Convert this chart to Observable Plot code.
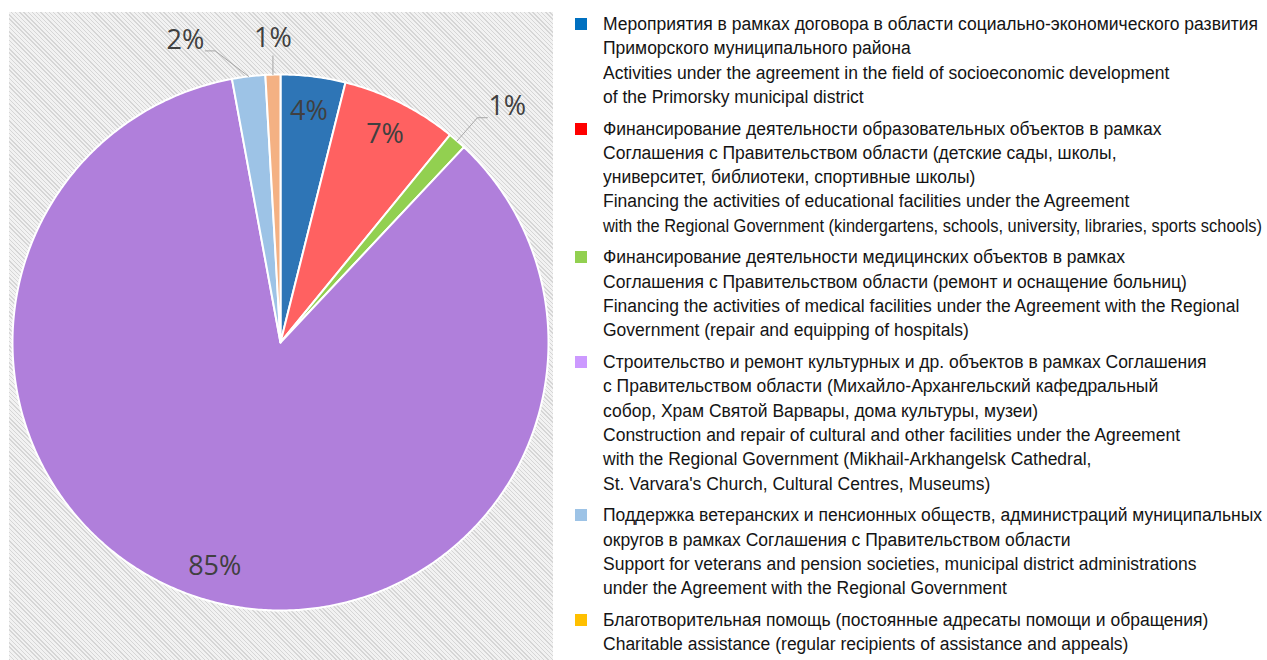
<!DOCTYPE html>
<html>
<head>
<meta charset="utf-8">
<script src="https://cdn.jsdelivr.net/npm/d3@7"></script>
<script src="https://cdn.jsdelivr.net/npm/@observablehq/plot@0.6"></script>
<style>
  html, body { margin: 0; padding: 0; background: #ffffff; }
  #wrap { position: relative; width: 1267px; height: 660px; overflow: hidden; }
  #bg { position: absolute; left: 9px; top: 12px; width: 544px; height: 648px;
        background: repeating-linear-gradient(45deg, #d6d6d6 0 1px, #f2f2f2 1px 3px); }
  #chart { position: absolute; left: 0; top: 0; }
  #legend { position: absolute; left: 575px; top: 12px;
            font-family: "Liberation Sans", Arial, sans-serif;
            font-size: 18px; line-height: 24.3px; color: #141414; }
  .item { position: relative; padding-left: 28px; margin-bottom: 7.4px; white-space: nowrap; }
  .sw { position: absolute; left: 0; top: 6px; width: 12px; height: 12px; }
  .ln { transform-origin: 0 0; white-space: nowrap; }
</style>
</head>
<body>
<div id="wrap">
  <div id="bg"></div>
  <div id="chart"></div>
  <div id="legend"></div>
</div>
<script>
// ---- data ----
const categories = [
  "Мероприятия (соц.-экон. развитие)",
  "Образовательные объекты",
  "Медицинские объекты",
  "Культурные и др. объекты",
  "Ветеранские и пенсионные общества",
  "Благотворительная помощь"
];
const shares = [3.9, 7.0, 1.1, 85.1, 2.0, 0.9];
const percentLabels = ["4%", "7%", "1%", "85%", "2%", "1%"];
const pieColors = ["#2E75B6", "#FF6161", "#92D050", "#B07FDB", "#9DC3E6", "#F4B183"];
const legendColors = ["#0070C0", "#FF0000", "#92D050", "#CC99FF", "#9DC3E6", "#FFC000"];
const legendRu = [
  ["Мероприятия в рамках договора в области социально-экономического развития", "Приморского муниципального района"],
  ["Финансирование деятельности образовательных объектов в рамках", "Соглашения с Правительством области (детские сады, школы,", "университет, библиотеки, спортивные школы)"],
  ["Финансирование деятельности медицинских объектов в рамках", "Соглашения с Правительством области (ремонт и оснащение больниц)"],
  ["Строительство и ремонт культурных и др. объектов в рамках Соглашения", "с Правительством области (Михайло-Архангельский кафедральный", "собор, Храм Святой Варвары, дома культуры, музеи)"],
  ["Поддержка ветеранских и пенсионных обществ, администраций муниципальных", "округов в рамках Соглашения с Правительством области"],
  ["Благотворительная помощь (постоянные адресаты помощи и обращения)"]
];
const legendEn = [
  ["Activities under the agreement in the field of socioeconomic development", "of the Primorsky municipal district"],
  ["Financing the activities of educational facilities under the Agreement", "with the Regional Government (kindergartens, schools, university, libraries, sports schools)"],
  ["Financing the activities of medical facilities under the Agreement with the Regional", "Government (repair and equipping of hospitals)"],
  ["Construction and repair of cultural and other facilities under the Agreement", "with the Regional Government (Mikhail-Arkhangelsk Cathedral,", "St. Varvara's Church, Cultural Centres, Museums)"],
  ["Support for veterans and pension societies, municipal district administrations", "under the Agreement with the Regional Government"],
  ["Charitable assistance (regular recipients of assistance and appeals)"]
];

// ---- layout ----
const W = 560, H = 660, CX = 280, CY = 342, R = 268;

// ---- geometry from data ----
const total = d3.sum(shares);
let acc = 0;
const slices = shares.map((v, i) => {
  const a0 = acc / total * 2 * Math.PI; acc += v;
  const a1 = acc / total * 2 * Math.PI;
  return {i, v, a0, a1, mid: (a0 + a1) / 2, label: percentLabels[i], name: categories[i]};
});
const pts = [];
for (const s of slices) {
  const n = Math.max(2, Math.ceil((s.a1 - s.a0) / (Math.PI / 360)));
  pts.push({k: s.i, x: 0, y: 0});
  for (let j = 0; j <= n; j++) {
    const a = s.a0 + (s.a1 - s.a0) * j / n;
    pts.push({k: s.i, x: Math.sin(a), y: Math.cos(a)});
  }
  pts.push({k: s.i, x: 0, y: 0});
}
const norm = a => { let b = a % (2 * Math.PI); if (b > Math.PI) b -= 2 * Math.PI; return b; };

// inside labels
const inside = slices.filter(s => s.v >= 3).map(s => ({
  x: 0.87 * Math.sin(s.mid), y: 0.87 * Math.cos(s.mid), text: s.label
}));
// outside labels with simple de-overlap
const outside = slices.filter(s => s.v < 3).sort((a, b) => norm(b.mid) - norm(a.mid));
const minSep = 11 * Math.PI / 180;
let prev = null;
for (const s of outside) {
  let a = norm(s.mid);
  if (prev !== null && prev - a < minSep) a = prev - minSep;
  s.la = a; prev = a;
}
const px = 1 / R; // one pixel in data units
const outLabels = [], leaders = [];
for (const s of outside) {
  const ax = Math.sin(s.mid), ay = Math.cos(s.mid);
  if (Math.abs(Math.sin(s.la)) < 0.12) {
    const ey = 1.07 * Math.cos(s.la);
    leaders.push({k: s.i, x: ax, y: ay}, {k: s.i, x: ax, y: ey});
    outLabels.push({x: ax, y: ey + 17 * px, text: s.label, anchor: "middle"});
  } else {
    const d = 1.115;
    const ex = d * Math.sin(s.la), ey = d * Math.cos(s.la);
    const dir = Math.sign(Math.sin(s.la));
    leaders.push({k: s.i, x: ax, y: ay}, {k: s.i, x: ex, y: ey}, {k: s.i, x: ex + dir * 10 * px, y: ey});
    outLabels.push({x: ex + dir * 11 * px, y: ey + 11 * px, text: s.label, anchor: dir > 0 ? "start" : "end"});
  }
}

const labelFont = "'Open Sans', 'Noto Sans', sans-serif";
const chart = Plot.plot({
  width: W, height: H,
  x: {domain: [-CX / R, (W - CX) / R], range: [0, W], axis: null},
  y: {domain: [CY / R, -(H - CY) / R], range: [0, H], axis: null},
  color: {type: "identity"},
  style: {background: "transparent", overflow: "visible"},
  marks: [
    Plot.line(pts, {x: "x", y: "y", z: "k", fill: d => pieColors[d.k], stroke: "#ffffff", strokeWidth: 2, strokeLinejoin: "round", curve: "linear"}),
    Plot.line(leaders, {x: "x", y: "y", z: "k", stroke: "#a6a6a6", strokeWidth: 1, curve: "linear"}),
    Plot.text(inside, {x: "x", y: "y", text: "text", fontSize: 27, fill: "#404040", fontFamily: labelFont}),
    Plot.text(outLabels.filter(d => d.anchor === "start"), {x: "x", y: "y", text: "text", textAnchor: "start", fontSize: 27, fill: "#404040", fontFamily: labelFont}),
    Plot.text(outLabels.filter(d => d.anchor === "end"), {x: "x", y: "y", text: "text", textAnchor: "end", fontSize: 27, fill: "#404040", fontFamily: labelFont}),
    Plot.text(outLabels.filter(d => d.anchor === "middle"), {x: "x", y: "y", text: "text", textAnchor: "middle", fontSize: 27, fill: "#404040", fontFamily: labelFont})
  ]
});
document.getElementById("chart").appendChild(chart);

// ---- legend ----
const legend = document.getElementById("legend");
const lineEls = [];
legendRu.forEach((ru, i) => {
  const item = document.createElement("div");
  item.className = "item";
  const sw = document.createElement("div");
  sw.className = "sw"; sw.style.background = legendColors[i];
  item.appendChild(sw);
  for (const line of ru.concat(legendEn[i])) {
    const l = document.createElement("div");
    l.className = "ln";
    const sp = document.createElement("span");
    sp.textContent = line;
    l.appendChild(sp);
    item.appendChild(l);
    lineEls.push(sp);
  }
  legend.appendChild(item);
});
// condense the font horizontally (narrow-face look): first line spans the legend width,
// and any longer line is squeezed to stay inside the picture
const w0 = lineEls[0].getBoundingClientRect().width;
const k = 655 / w0;
const maxW = 659;
lineEls.forEach(sp => {
  const w = sp.getBoundingClientRect().width;
  const kk = Math.min(k, maxW / w);
  sp.parentNode.style.transform = `scaleX(${kk})`;
});
</script>
</body>
</html>
